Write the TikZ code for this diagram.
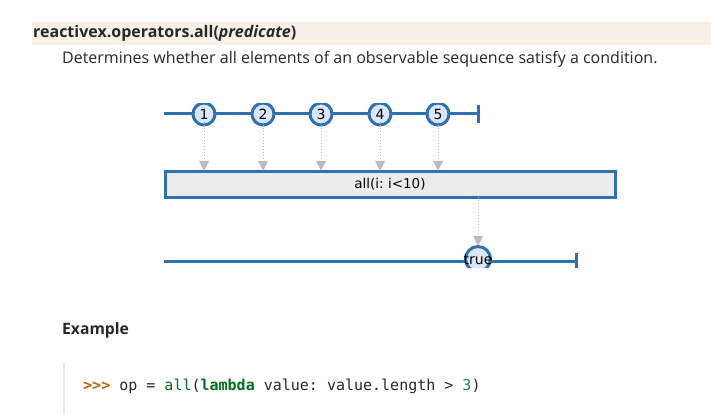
\documentclass[tikz,border=0pt]{standalone}
\usepackage{fontspec}
\setmainfont{Open Sans}
\newfontfamily\dvs{DejaVu Sans}
\newfontfamily\dvm{DejaVu Sans Mono}
\usetikzlibrary{arrows.meta}
\definecolor{band}{RGB}{248,240,230}
\definecolor{txt}{RGB}{40,40,40}
\definecolor{lane}{RGB}{48,112,176}
\definecolor{marble}{RGB}{220,230,250}
\definecolor{opfill}{RGB}{236,236,236}
\definecolor{gdot}{RGB}{187,187,187}
\definecolor{prompt}{RGB}{198,93,9}
\definecolor{kw}{RGB}{0,112,32}
\definecolor{num}{RGB}{32,128,80}
\definecolor{codebar}{RGB}{232,232,232}
\tikzset{
  lanestyle/.style={draw=lane, line width=3pt},
  marblestyle/.style={circle, draw=lane, fill=marble, line width=3pt, minimum size=22pt, inner sep=0pt, font=\dvs\fontsize{14}{14}\selectfont},
  dotarrow/.style={draw=gdot, line width=1pt, dotted, -{Triangle[width=10pt,length=10pt,fill=gdot,line width=0pt]}},
  opbox/.style={draw=lane, fill=opfill, line width=3pt, inner sep=0pt, font=\dvs\fontsize{13.5}{13.5}\selectfont},
}
\begin{document}
\frenchspacing
\begin{tikzpicture}[x=1pt,y=-1pt]
\useasboundingbox (0,0) rectangle (711,414);
\fill[white] (0,0) rectangle (711,414);
% header band
\fill[band] (32,22) rectangle (711,45);
\node[anchor=west, inner sep=0pt, text=txt, font=\bfseries\fontsize{16}{16}\selectfont] (title) at (33,33.5) {reactivex.operators.all(\textit{predicate})};
\node[anchor=west, inner sep=0pt, text=txt, font=\fontsize{16}{16}\selectfont] (desc) at (62,59) {Determines whether all elements of an observable sequence satisfy a condition.};

% top lane
\begin{scope}
\clip (150,104) rectangle (500,135);
\coordinate (s1) at (164,114);
\coordinate (e1) at (478,114);
\draw[lanestyle] (s1) -- (e1);
\draw[lanestyle] ([yshift=-9pt]e1) -- ([yshift=9pt]e1);
\node[marblestyle] (m1) at (204,114) {1};
\node[marblestyle] (m2) at (263,114) {2};
\node[marblestyle] (m3) at (321,114) {3};
\node[marblestyle] (m4) at (380,114) {4};
\node[marblestyle] (m5) at (438,114) {5};
\end{scope}

% operator box
\node[opbox, minimum width=450pt, minimum height=26pt] (op) at (390,184) {all(i: i<10)};

\foreach \i in {1,...,5}{
  \coordinate (t\i) at (m\i |- op.north);
  \draw[dotarrow] ([yshift=4pt]m\i.south) -- ([yshift=-1.5pt]t\i);
}

% bottom lane
\begin{scope}
\clip (150,235) rectangle (600,267.5);
\coordinate (s2) at (164,261);
\coordinate (e2) at (576,261);
\draw[lanestyle] (s2) -- (e2);
\draw[lanestyle] ([yshift=-9pt]e2) -- ([yshift=8pt]e2);
\node[marblestyle, minimum size=25pt] (mr) at (478,259) {};
\node[inner sep=0pt, font=\dvs\fontsize{14}{14}\selectfont] (tr) at (478,260) {true};
\end{scope}
\draw[dotarrow] ([yshift=2pt]op.south -| mr) -- ([yshift=-1pt]mr.north);

% example
\node[anchor=west, inner sep=0pt, text=txt, font=\bfseries\fontsize{15.7}{15.7}\selectfont] (ex) at (62,330) {Example};
\coordinate (cb1) at (64,363);
\coordinate (cb2) at (64,414);
\draw[codebar, line width=2pt] (cb1) -- (cb2);
\node[anchor=west, inner sep=0pt, text=txt, font=\dvm\fontsize{15}{15}\selectfont] (code) at (83,386)
 {\textcolor{prompt}{\bfseries >{}>{}>} op = \textcolor{kw}{all}(\textcolor{kw}{\bfseries lambda} value: value.length > \textcolor{num}{3})};
\end{tikzpicture}
\end{document}
